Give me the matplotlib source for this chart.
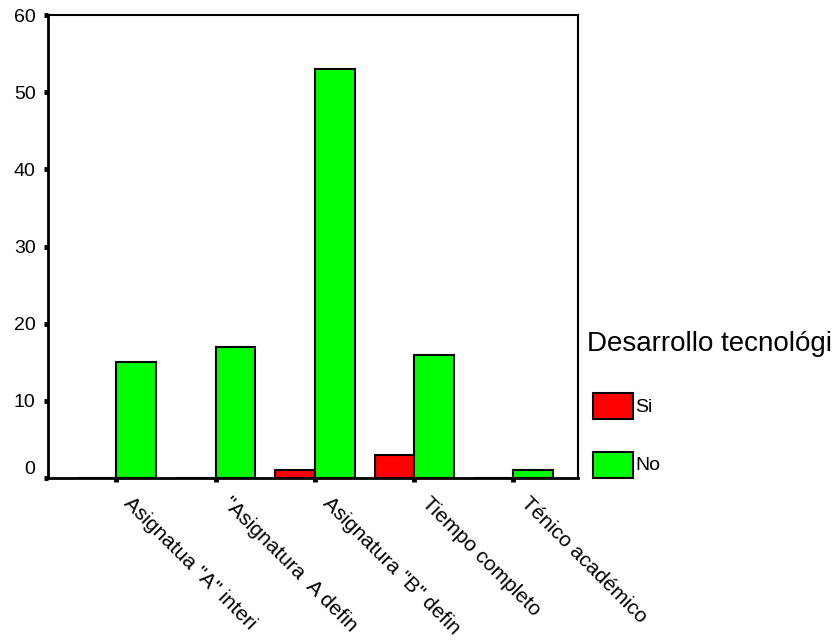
import matplotlib
matplotlib.use("Agg")
import matplotlib.pyplot as plt
from matplotlib.patches import Rectangle
import matplotlib.transforms as mtransforms
import numpy as np

plt.rcParams['font.family'] = ['Liberation Sans', 'DejaVu Sans']

categories = ['Asignatua "A" interi', '"Asignatura  A defin', 'Asignatura "B" defin',
              'Tiempo completo', 'Ténico académico']
si_values = [0, 0, 1, 3, 0]
no_values = [15, 17, 53, 16, 1]
series_names = ['Si', 'No']
series_colors = ['#ff0000', '#00ff00']
legend_title = 'Desarrollo tecnológi'
yticks = [0, 10, 20, 30, 40, 50, 60]

fig = plt.figure(figsize=(8.33, 6.44), dpi=100)
ax = fig.add_axes([48/833, 1-478/644, (578-48)/833, (478-15)/644])

x = np.arange(len(categories))
w = 0.4
ax.bar(x - w/2, si_values, w, color=series_colors[0], edgecolor='black', linewidth=1.5, zorder=3)
ax.bar(x + w/2, no_values, w, color=series_colors[1], edgecolor='black', linewidth=1.5, zorder=3)

ax.set_xlim(-0.69, 4.65)
ax.set_ylim(0, 60)
ax.set_yticks(yticks)
ax.set_yticklabels([str(v) for v in yticks], fontsize=14)
ax.set_xticks(x)
ax.set_xticklabels(categories, fontsize=15, rotation=-45, ha='left', va='top',
                   rotation_mode='anchor')
ax.tick_params(axis='y', direction='out', length=3, width=3.5, pad=6)
ax.tick_params(axis='x', direction='out', length=3, width=3.5, pad=8)

for lbl in ax.get_yticklabels():
    if lbl.get_text() == '0':
        lbl.set_transform(lbl.get_transform() + mtransforms.ScaledTranslation(0, 11/100, fig.dpi_scale_trans))
for lbl in ax.get_xticklabels():
    lbl.set_transform(lbl.get_transform() + mtransforms.ScaledTranslation(17/100, 0, fig.dpi_scale_trans))

for s in ['left', 'bottom']:
    ax.spines[s].set_linewidth(2)
for s in ['top', 'right']:
    ax.spines[s].set_linewidth(1.5)

# legend
fig.text(587/833, 1-351/644, legend_title, fontsize=20, ha='left', va='baseline')
for i, (name, col) in enumerate(zip(series_names, series_colors)):
    ytop = 393 + i*59
    fig.patches.append(Rectangle((593/833, 1-(ytop+26)/644), 40/833, 26/644,
                                 transform=fig.transFigure, facecolor=col,
                                 edgecolor='black', linewidth=1.5))
    fig.text(635/833, 1-(ytop+14)/644, name, fontsize=14, ha='left', va='center')

fig.savefig('out.png', dpi=100)
